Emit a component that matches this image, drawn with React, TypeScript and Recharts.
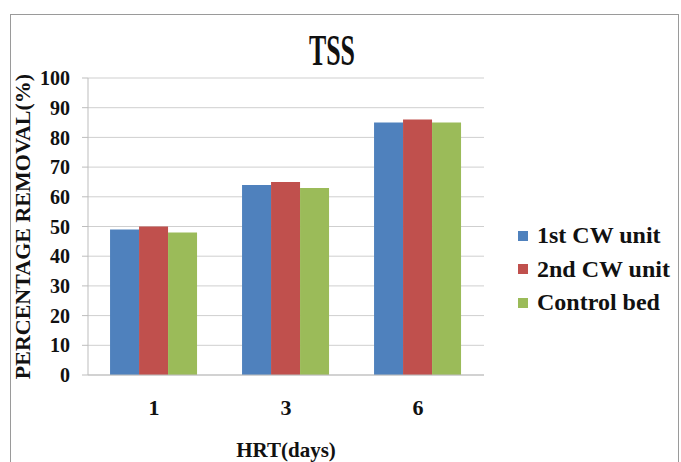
import { BarChart, Bar, XAxis, YAxis, CartesianGrid, Legend } from "recharts";

const hrtDays = ["1", "3", "6"];
const firstCwUnit = [49, 64, 85];
const secondCwUnit = [50, 65, 86];
const controlBed = [48, 63, 85];
const yTicks = [0, 10, 20, 30, 40, 50, 60, 70, 80, 90, 100];

const seriesInfo = [
  { key: "first", name: "1st CW unit", color: "#4F81BD" },
  { key: "second", name: "2nd CW unit", color: "#C0504D" },
  { key: "control", name: "Control bed", color: "#9BBB59" },
];

const data = hrtDays.map((d, i) => ({
  hrt: d,
  first: firstCwUnit[i],
  second: secondCwUnit[i],
  control: controlBed[i],
}));

const FONT = "'Liberation Serif', 'Times New Roman', serif";

function LegendBox() {
  return (
    <div style={{ fontFamily: FONT, fontWeight: "bold", fontSize: 24, color: "#111" }}>
      {seriesInfo.map((s) => (
        <div key={s.key} style={{ display: "flex", alignItems: "center", height: 33.5 }}>
          <span style={{ width: 10, height: 10, background: s.color, marginRight: 9, display: "inline-block" }} />
          <span>{s.name}</span>
        </div>
      ))}
    </div>
  );
}

export default function App() {
  return (
    <div style={{ position: "absolute", left: 0, top: 0, width: 681, height: 462, background: "#fff" }}>
      <div
        style={{
          position: "absolute",
          left: 10,
          top: 14,
          width: 669,
          height: 460,
          border: "1px solid #9a9a9a",
          boxSizing: "border-box",
        }}
      />
      <svg style={{ position: "absolute", left: 0, top: 0 }} width={681} height={80}>
        <text
          x={332}
          y={65}
          textAnchor="middle"
          fontFamily={FONT}
          fontWeight="bold"
          fontSize={44}
          textLength={46}
          lengthAdjust="spacingAndGlyphs"
          fill="#111"
        >
          TSS
        </text>
      </svg>
      <div style={{ position: "absolute", left: 0, top: 0 }}>
        <BarChart
          width={681}
          height={462}
          data={data}
          margin={{ top: 78, right: 197, left: 0, bottom: 0 }}
          barCategoryGap="16.7%"
          barGap={0}
        >
          <CartesianGrid vertical={false} stroke="#cfcfcf" />
          <XAxis
            dataKey="hrt"
            height={87}
            tickLine={false}
            axisLine={{ stroke: "#bdbdbd" }}
            tickMargin={18}
            tick={{ fill: "#111", fontFamily: FONT, fontWeight: "bold", fontSize: 22 }}
            label={{
              value: "HRT(days)",
              position: "insideBottom",
              offset: 5,
              style: { fill: "#111", fontFamily: FONT, fontWeight: "bold", fontSize: 21 },
            }}
          />
          <YAxis
            width={88}
            domain={[0, 100]}
            ticks={yTicks}
            interval={0}
            tickSize={6}
            tickMargin={12}
            tickLine={{ stroke: "#bdbdbd" }}
            axisLine={{ stroke: "#bdbdbd" }}
            tick={{ fill: "#111", fontFamily: FONT, fontWeight: "bold", fontSize: 20 }}
            label={{
              value: "PERCENTAGE REMOVAL(%)",
              angle: -90,
              position: "insideLeft",
              offset: 22,
              style: { textAnchor: "middle", fill: "#111", fontFamily: FONT, fontWeight: "bold", fontSize: 22 },
            }}
          />
          <Legend
            layout="vertical"
            align="center"
            verticalAlign="middle"
            content={() => <LegendBox />}
            wrapperStyle={{ position: "absolute", left: 518, top: 219, width: 160 }}
          />
          {seriesInfo.map((s) => (
            <Bar key={s.key} dataKey={s.key} name={s.name} fill={s.color} isAnimationActive={false} />
          ))}
        </BarChart>
      </div>
    </div>
  );
}
